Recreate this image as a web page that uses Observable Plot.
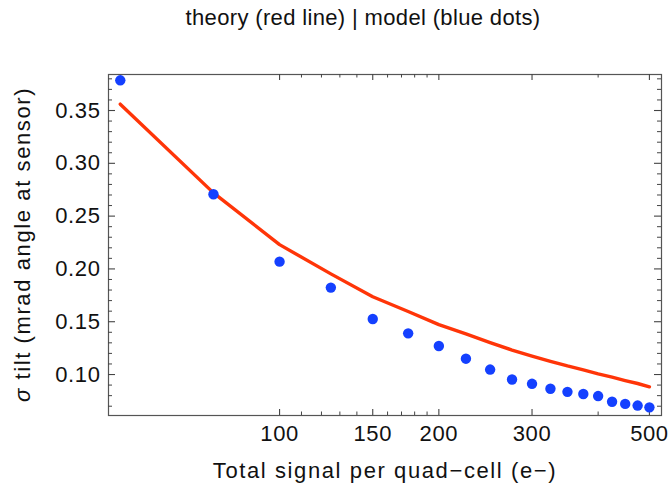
<!DOCTYPE html>
<html>
<head>
<meta charset="utf-8">
<script src="https://cdn.jsdelivr.net/npm/d3@7"></script>
<script src="https://cdn.jsdelivr.net/npm/@observablehq/plot@0.6"></script>
<style>
  body { margin: 0; background: #fff; }
  #wrap { position: relative; width: 670px; height: 485px; font-family: "Liberation Sans", Arial, sans-serif; }
  #title { position: absolute; left: 0; top: 5px; width: 726px; text-align: center; font-size: 22px; letter-spacing: 0.35px; color: #111; line-height: 26px; }
  #chart { position: absolute; left: 0; top: 0; }
</style>
</head>
<body>
<div id="wrap">
  <div id="chart"></div>
  <div id="title">theory (red line) | model (blue dots)</div>
</div>
<script>
// ---- data ----
const signal = [50, 75, 100, 125, 150, 175, 200, 225, 250, 275, 300, 325, 350, 375, 400, 425, 450, 475, 500];
const theory = [0.356, 0.272, 0.223, 0.1953, 0.1737, 0.1597, 0.1472, 0.1384, 0.1302, 0.1232, 0.1175, 0.1125, 0.1081, 0.1044, 0.1006, 0.0975, 0.0943, 0.0915, 0.0884];
const model  = [0.3786, 0.2707, 0.2069, 0.1823, 0.1526, 0.139, 0.127, 0.115, 0.1047, 0.0953, 0.0912, 0.0865, 0.0836, 0.0816, 0.0796, 0.0742, 0.0722, 0.0706, 0.0689];
const xTicks = [100, 150, 200, 300, 500];
const xMinorTicks = [110, 120, 130, 140, 160, 170, 180, 190, 400];
const yTicks = [0.10, 0.15, 0.20, 0.25, 0.30, 0.35];
const yMinorTicks = [0.07, 0.08, 0.09, 0.11, 0.12, 0.13, 0.14, 0.16, 0.17, 0.18, 0.19, 0.21, 0.22, 0.23, 0.24, 0.26, 0.27, 0.28, 0.29, 0.31, 0.32, 0.33, 0.34, 0.36, 0.37, 0.38];
const xLabel = "Total signal per quad\u2212cell (e\u2212)";
const yLabelSymbol = "\u03c3";
const yLabelRest = " tilt (mrad angle at sensor)";

const points = signal.map((s, i) => ({ s, theory: theory[i], model: model[i] }));

const W = 670, H = 485;
const mL = 108, mR = 9, mT = 74, mB = 70;
const fw = W - mL - mR, fh = H - mT - mB;
const red = "#ff3508", blue = "#1440ff", tickColor = "#444";
const font = "Liberation Sans, Arial, sans-serif";

const chart = Plot.plot({
  width: W, height: H,
  marginLeft: mL, marginRight: mR, marginTop: mT, marginBottom: mB,
  style: { fontFamily: font, background: "#fff", color: "#111" },
  x: { type: "log", domain: [47.5, 527] },
  y: { domain: [0.0612, 0.3841] },
  marks: [
    Plot.frame({ stroke: "#555", strokeWidth: 1.2 }),
    // inward ticks on all four sides
    Plot.tickY(yTicks, { y: d => d, insetRight: fw - 7, stroke: tickColor, strokeWidth: 1.1 }),
    Plot.tickY(yMinorTicks, { y: d => d, insetRight: fw - 4, stroke: tickColor, strokeWidth: 1 }),
    Plot.tickY(yTicks, { y: d => d, insetLeft: fw - 7, stroke: tickColor, strokeWidth: 1.1 }),
    Plot.tickY(yMinorTicks, { y: d => d, insetLeft: fw - 4, stroke: tickColor, strokeWidth: 1 }),
    Plot.tickX(xTicks, { x: d => d, insetTop: fh - 6, stroke: tickColor, strokeWidth: 1.1 }),
    Plot.tickX(xMinorTicks, { x: d => d, insetTop: fh - 3.5, stroke: tickColor, strokeWidth: 1 }),
    Plot.tickX(xTicks, { x: d => d, insetBottom: fh - 6, stroke: tickColor, strokeWidth: 1.1 }),
    Plot.tickX(xMinorTicks, { x: d => d, insetBottom: fh - 3.5, stroke: tickColor, strokeWidth: 1 }),
    Plot.axisX(xTicks, { tickSize: 0, tickPadding: 10, fontSize: 22, label: null, tickFormat: d => String(d) }),
    Plot.axisY(yTicks, { tickSize: 0, tickPadding: 8, fontSize: 22, label: null, tickFormat: d3.format(".2f") }),
    Plot.line(points, { x: "s", y: "theory", stroke: red, strokeWidth: 3.4 }),
    Plot.dot(points, { x: "s", y: "model", r: 5.2, fill: blue, stroke: "none" }),
    Plot.text([xLabel], { text: d => d, frameAnchor: "bottom", dy: 62, fontSize: 22, lineAnchor: "bottom", fill: "#111" })
  ]
});

// letter spacing to mimic the wider reference font
d3.select(chart).selectAll("text").style("letter-spacing", "0.6px");
d3.select(chart).selectAll("g[aria-label='text'] text").style("letter-spacing", "1.6px");

// y-axis label with italic sigma
const yl = d3.select(chart).append("text")
  .attr("transform", `translate(30, ${mT + fh / 2}) rotate(-90)`)
  .attr("text-anchor", "middle")
  .attr("font-size", 22)
  .attr("font-family", font)
  .attr("fill", "#111")
  .style("letter-spacing", "1.6px");
yl.append("tspan").attr("font-style", "italic").text(yLabelSymbol);
yl.append("tspan").text(yLabelRest);

document.getElementById("chart").appendChild(chart);
</script>
</body>
</html>
